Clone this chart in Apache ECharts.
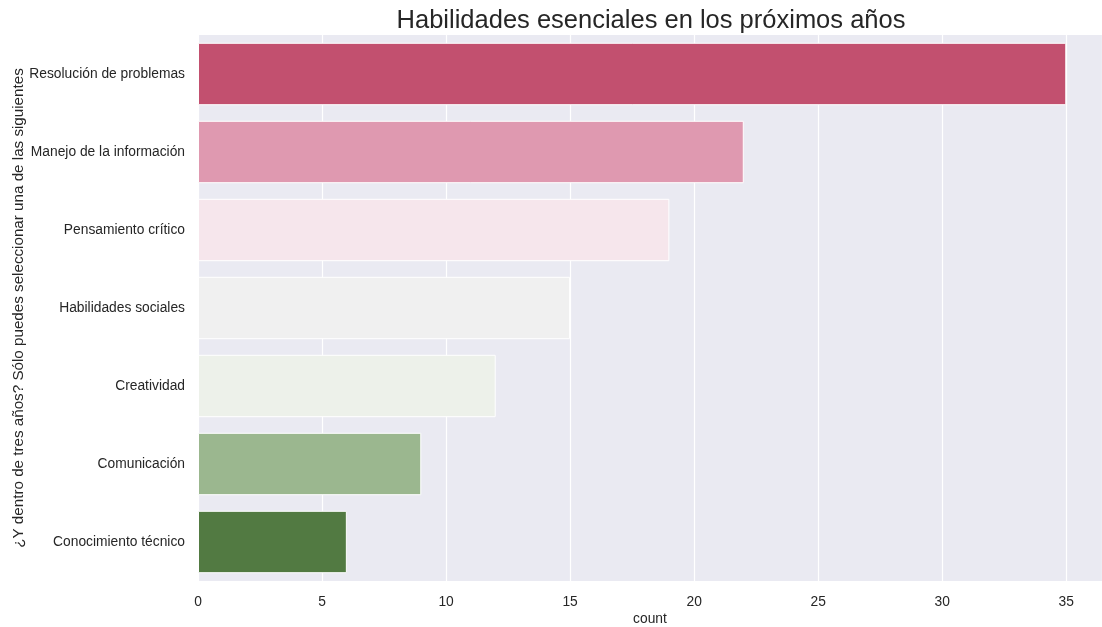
<!DOCTYPE html>
<html>
<head>
<meta charset="utf-8">
<script src="https://cdn.jsdelivr.net/npm/echarts@6/dist/echarts.min.js"></script>
<style>html,body{margin:0;padding:0;background:#fff;}#c{width:1102px;height:627px;}</style>
</head>
<body>
<div id="c"></div>
<script>
const categories = ["Resolución de problemas","Manejo de la información","Pensamiento crítico","Habilidades sociales","Creatividad","Comunicación","Conocimiento técnico"];
const counts = [35, 22, 19, 15, 12, 9, 6];
const colors = ["#c2506f","#df99b0","#f6e6ec","#f0f0f0","#edf1ea","#9bb78f","#527a42"];
const xTicks = [0,5,10,15,20,25,30,35];

const chart = echarts.init(document.getElementById('c'));
const font = 'Liberation Sans, Arial, sans-serif';
chart.setOption({
  animation: false,
  title: {
    text: 'Habilidades esenciales en los próximos años',
    left: 646, top: 3, textAlign: 'center',
    textStyle: {fontFamily: font, fontSize: 25.5, fontWeight: 'normal', color: '#262626'}
  },
  grid: {left: 198, right: 0, top: 35, bottom: 46, show: true, backgroundColor: '#eaeaf2', borderWidth: 0,
    containLabel: false, outerBoundsMode: 'none'},
  xAxis: {
    type: 'value', min: 0, max: 36.44, interval: 5,
    name: 'count', nameLocation: 'middle', nameGap: 31, nameMoveOverlap: false,
    nameTextStyle: {fontFamily: font, fontSize: 13.8, color: '#262626'},
    axisLine: {show: false}, axisTick: {show: false},
    axisLabel: {fontFamily: font, fontSize: 13.8, color: '#262626', margin: 14,
      formatter: v => xTicks.includes(v) ? String(v) : ''},
    splitLine: {show: true, lineStyle: {color: '#ffffff', width: 1.2}}
  },
  yAxis: {
    type: 'category', data: categories, inverse: true,
    name: '¿Y dentro de tres años? Sólo puedes seleccionar una de las siguientes',
    nameLocation: 'middle', nameGap: 172, nameRotate: 90, nameMoveOverlap: false,
    nameTextStyle: {fontFamily: font, fontSize: 15.2, color: '#262626'},
    axisLine: {show: false}, axisTick: {show: false},
    axisLabel: {fontFamily: font, fontSize: 13.8, color: '#262626', margin: 13},
    splitLine: {show: false}
  },
  series: [{
    type: 'bar',
    data: counts.map((v, i) => ({value: v, itemStyle: {color: colors[i]}})),
    barWidth: '80%',
    itemStyle: {borderColor: '#ffffff', borderWidth: 1}
  }]
});
</script>
</body>
</html>
